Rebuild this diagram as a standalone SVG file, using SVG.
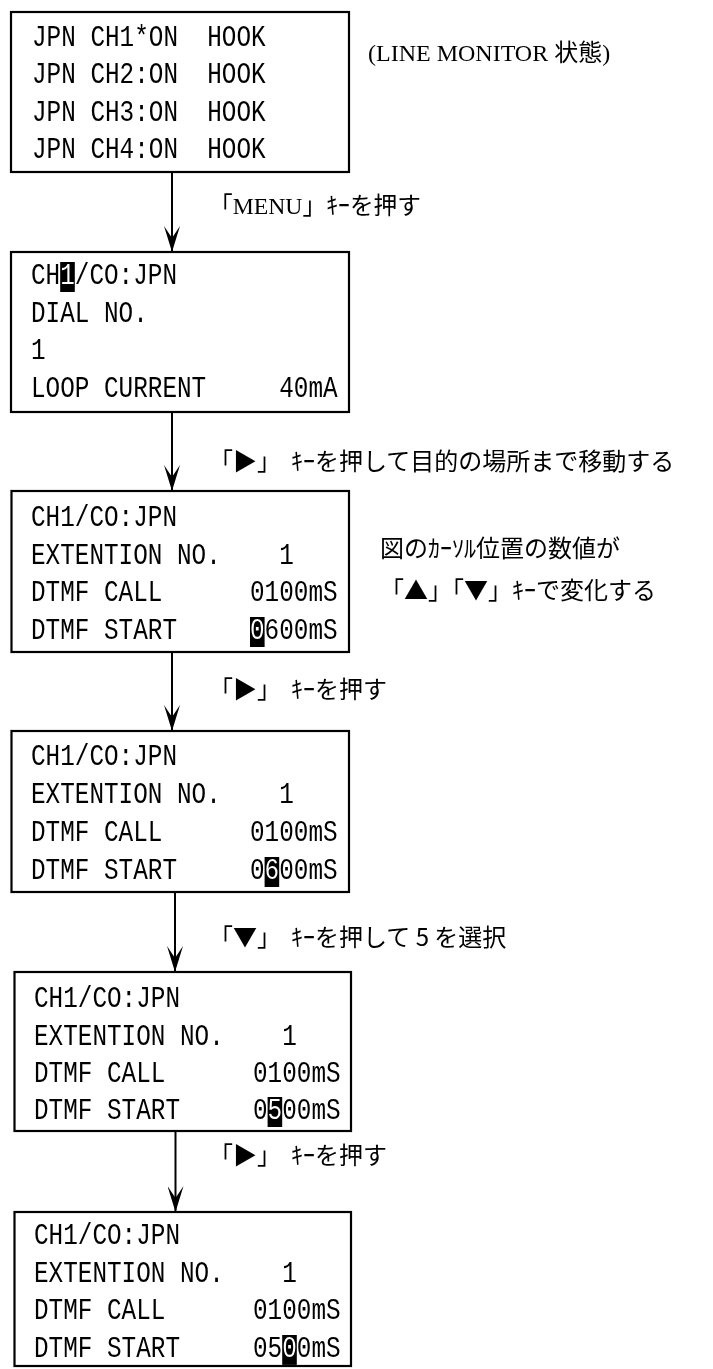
<svg xmlns="http://www.w3.org/2000/svg" width="713" height="1369" viewBox="0 0 713 1369">
<defs>
<style>
.box{fill:#fff;stroke:#000;stroke-width:2.2}
.t{font-family:"Liberation Mono",monospace;font-size:30px;fill:#000;white-space:pre}
.hl{fill:#fff;mix-blend-mode:difference}
.lb{font-family:"Noto Sans CJK JP","Noto Sans CJK SC",sans-serif;font-size:24px;fill:#000;white-space:pre}
.lbs{font-family:"Liberation Serif","Noto Sans CJK JP",serif;font-size:24px;fill:#000;white-space:pre}
.con{stroke:#000;stroke-width:2;fill:none}
</style>
<marker id="ah" viewBox="0 0 26 16" markerWidth="26" markerHeight="16" refX="25" refY="8" orient="auto" markerUnits="userSpaceOnUse">
<path d="M26,8 L0,0 L12,8 L0,16 Z" fill="#000"/>
</marker>
</defs>
<rect width="713" height="1369" fill="#fff"/>

<g id="connectors">
<line class="con" x1="172" y1="173" x2="172" y2="251" marker-end="url(#ah)"/>
<line class="con" x1="172" y1="413" x2="172" y2="490" marker-end="url(#ah)"/>
<line class="con" x1="172" y1="653" x2="172" y2="730" marker-end="url(#ah)"/>
<line class="con" x1="175" y1="893" x2="175" y2="971" marker-end="url(#ah)"/>
<line class="con" x1="175.5" y1="1132" x2="175.5" y2="1211" marker-end="url(#ah)"/>
</g>

<g id="node1">
<rect class="box" x="11" y="12" width="338" height="160"/>
<text class="t" xml:space="preserve" x="32" y="46" textLength="233.6" lengthAdjust="spacingAndGlyphs">JPN CH1*ON  HOOK</text>
<text class="t" xml:space="preserve" x="32" y="83" textLength="233.6" lengthAdjust="spacingAndGlyphs">JPN CH2:ON  HOOK</text>
<text class="t" xml:space="preserve" x="32" y="121" textLength="233.6" lengthAdjust="spacingAndGlyphs">JPN CH3:ON  HOOK</text>
<text class="t" xml:space="preserve" x="32" y="158" textLength="233.6" lengthAdjust="spacingAndGlyphs">JPN CH4:ON  HOOK</text>
</g>

<g id="note-monitor">
<text class="lbs" xml:space="preserve" x="368" y="61">(LINE MONITOR 状態)</text>
</g>

<g id="label-menu">
<text class="lbs" xml:space="preserve" x="209" y="214" textLength="212" lengthAdjust="spacingAndGlyphs">「MENU」ｷｰを押す</text>
</g>

<g id="node2">
<rect class="box" x="11" y="252" width="338" height="160"/>
<text class="t" xml:space="preserve" x="31" y="284" textLength="146" lengthAdjust="spacingAndGlyphs">CH1/CO:JPN</text>
<text class="t" xml:space="preserve" x="31" y="322" textLength="116.8" lengthAdjust="spacingAndGlyphs">DIAL NO.</text>
<text class="t" xml:space="preserve" x="31" y="359" textLength="14.6" lengthAdjust="spacingAndGlyphs">1</text>
<text class="t" xml:space="preserve" x="31" y="397" textLength="306.6" lengthAdjust="spacingAndGlyphs">LOOP CURRENT     40mA</text>
<rect class="hl" x="60.2" y="262" width="14.6" height="30"/>
</g>

<g id="label-move">
<text class="lb" xml:space="preserve" x="209" y="470">「▶」<tspan dx="10">ｷｰを押して目的の場所まで移動する</tspan></text>
</g>

<g id="node3">
<rect class="box" x="11.5" y="491" width="337.5" height="161"/>
<text class="t" xml:space="preserve" x="31" y="526" textLength="146" lengthAdjust="spacingAndGlyphs">CH1/CO:JPN</text>
<text class="t" xml:space="preserve" x="31" y="564" textLength="262.8" lengthAdjust="spacingAndGlyphs">EXTENTION NO.    1</text>
<text class="t" xml:space="preserve" x="31" y="601" textLength="306.6" lengthAdjust="spacingAndGlyphs">DTMF CALL      0100mS</text>
<text class="t" xml:space="preserve" x="31" y="639" textLength="306.6" lengthAdjust="spacingAndGlyphs">DTMF START     0600mS</text>
<rect class="hl" x="250" y="617" width="14.6" height="30"/>
</g>

<g id="note-cursor">
<text class="lb" xml:space="preserve" x="380" y="557">図のｶｰｿﾙ位置の数値が</text>
<text class="lb" xml:space="preserve" x="380" y="599">「▲」「▼」ｷｰで変化する</text>
</g>

<g id="label-right1">
<text class="lb" xml:space="preserve" x="209" y="698">「▶」<tspan dx="10">ｷｰを押す</tspan></text>
</g>

<g id="node4">
<rect class="box" x="11.5" y="731" width="337.5" height="161"/>
<text class="t" xml:space="preserve" x="31" y="765" textLength="146" lengthAdjust="spacingAndGlyphs">CH1/CO:JPN</text>
<text class="t" xml:space="preserve" x="31" y="803" textLength="262.8" lengthAdjust="spacingAndGlyphs">EXTENTION NO.    1</text>
<text class="t" xml:space="preserve" x="31" y="841" textLength="306.6" lengthAdjust="spacingAndGlyphs">DTMF CALL      0100mS</text>
<text class="t" xml:space="preserve" x="31" y="879" textLength="306.6" lengthAdjust="spacingAndGlyphs">DTMF START     0600mS</text>
<rect class="hl" x="264.6" y="857" width="14.6" height="30"/>
</g>

<g id="label-down">
<text class="lb" xml:space="preserve" x="209" y="946">「▼」<tspan dx="10">ｷｰを押して 5 を選択</tspan></text>
</g>

<g id="node5">
<rect class="box" x="14.5" y="972" width="336.5" height="159"/>
<text class="t" xml:space="preserve" x="34" y="1007" textLength="146" lengthAdjust="spacingAndGlyphs">CH1/CO:JPN</text>
<text class="t" xml:space="preserve" x="34" y="1045" textLength="262.8" lengthAdjust="spacingAndGlyphs">EXTENTION NO.    1</text>
<text class="t" xml:space="preserve" x="34" y="1082" textLength="306.6" lengthAdjust="spacingAndGlyphs">DTMF CALL      0100mS</text>
<text class="t" xml:space="preserve" x="34" y="1119" textLength="306.6" lengthAdjust="spacingAndGlyphs">DTMF START     0500mS</text>
<rect class="hl" x="267.6" y="1097" width="14.6" height="30"/>
</g>

<g id="label-right2">
<text class="lb" xml:space="preserve" x="209" y="1164">「▶」<tspan dx="10">ｷｰを押す</tspan></text>
</g>

<g id="node6">
<rect class="box" x="14.5" y="1212" width="336.5" height="154"/>
<text class="t" xml:space="preserve" x="34" y="1244" textLength="146" lengthAdjust="spacingAndGlyphs">CH1/CO:JPN</text>
<text class="t" xml:space="preserve" x="34" y="1282" textLength="262.8" lengthAdjust="spacingAndGlyphs">EXTENTION NO.    1</text>
<text class="t" xml:space="preserve" x="34" y="1319" textLength="306.6" lengthAdjust="spacingAndGlyphs">DTMF CALL      0100mS</text>
<text class="t" xml:space="preserve" x="34" y="1357" textLength="306.6" lengthAdjust="spacingAndGlyphs">DTMF START     0500mS</text>
<rect class="hl" x="282.2" y="1335" width="14.6" height="30"/>
</g>
</svg>
